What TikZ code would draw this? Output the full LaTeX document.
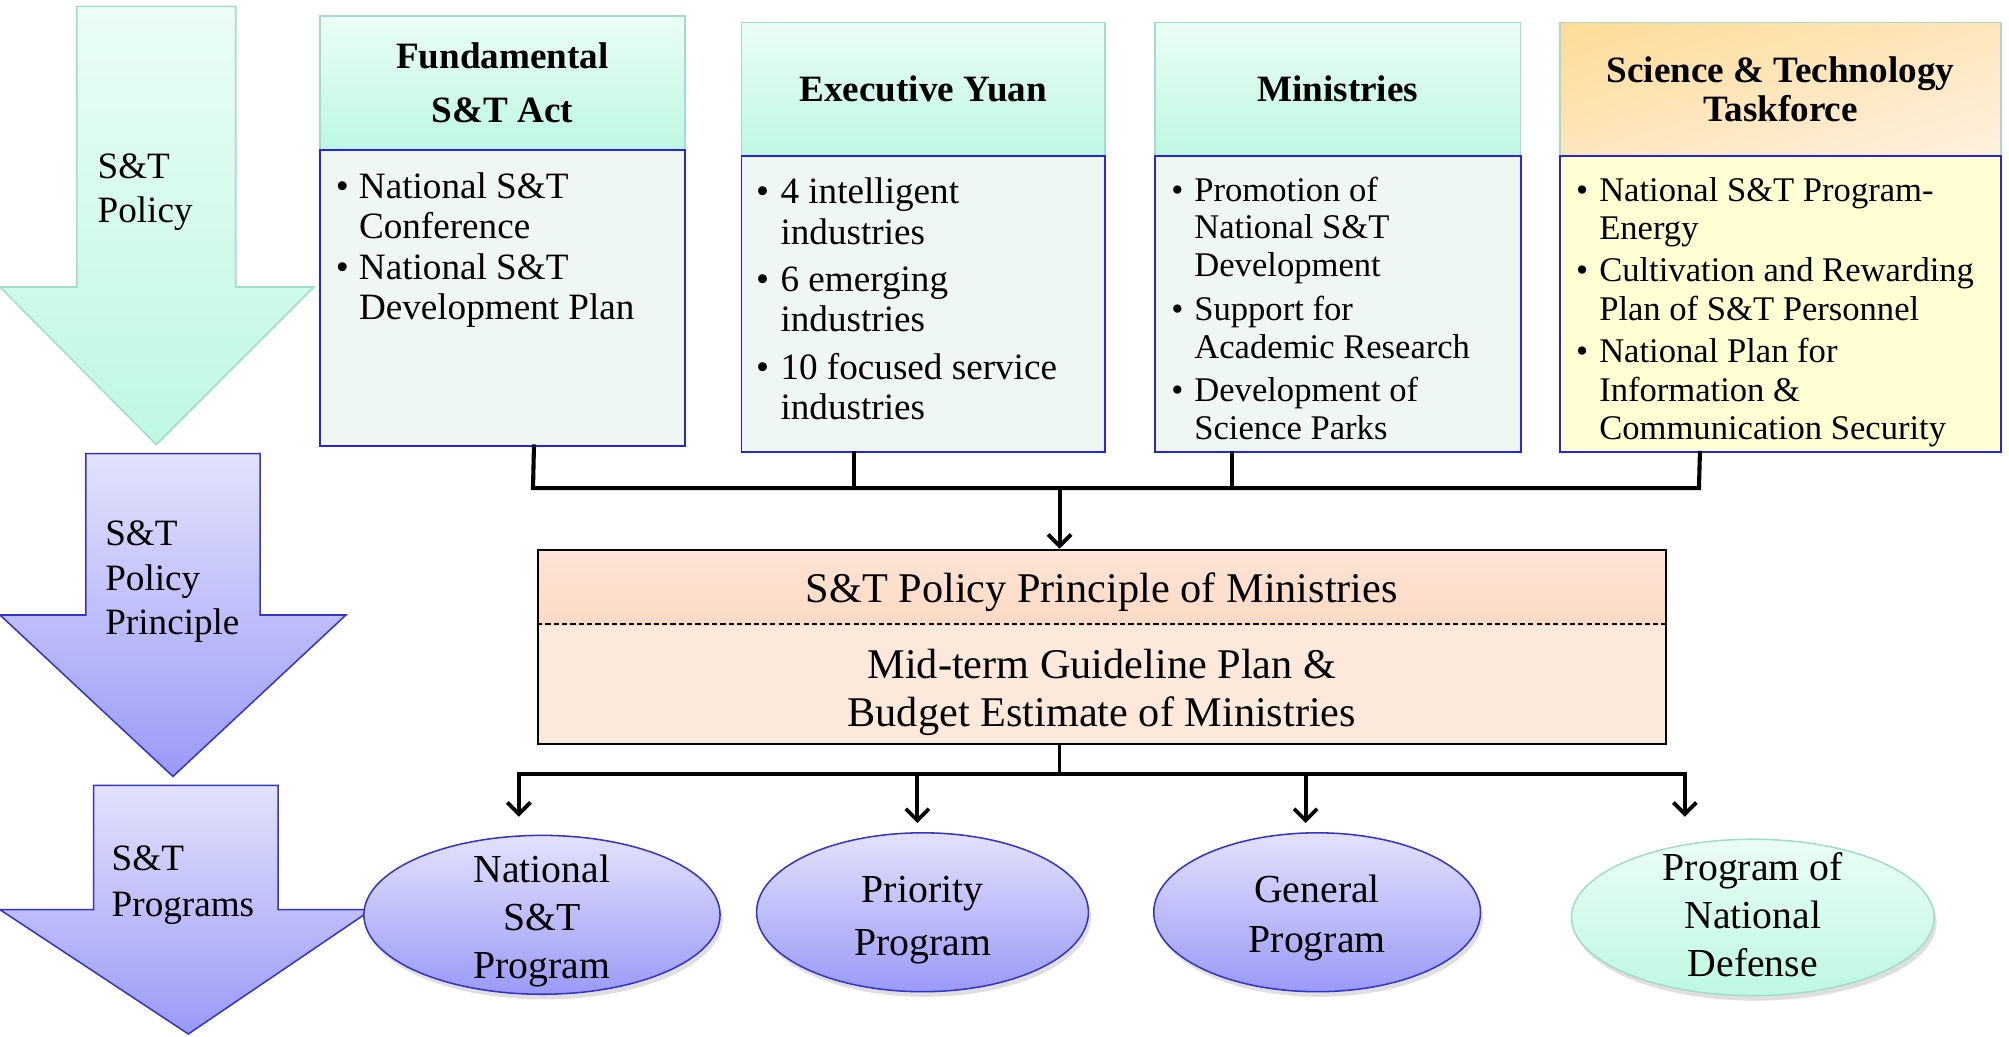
\documentclass[tikz,border=0pt]{standalone}
\usepackage{fontspec}
\setmainfont{Liberation Serif}
\usepackage{array}
\usetikzlibrary{shapes.geometric,arrows.meta,shadows,shadings,calc}
\definecolor{grtop}{HTML}{EBFDF6}
\definecolor{grbot}{HTML}{BDF8E2}
\definecolor{grborder}{HTML}{A3DCC9}
\definecolor{bodyfill}{HTML}{EFF7F3}
\definecolor{yelfill}{HTML}{FFFFD3}
\definecolor{bodyblue}{HTML}{2424EE}
\definecolor{orA}{HTML}{FEDB96}
\definecolor{orB}{HTML}{FEE6BC}
\definecolor{orC}{HTML}{FEF1E1}
\definecolor{pktop}{HTML}{FDE4D5}
\definecolor{pkbot}{HTML}{FCCBAA}
\definecolor{pklow}{HTML}{FCE9DB}
\definecolor{bltop}{HTML}{E2E2FC}
\definecolor{blbot}{HTML}{9A9AF7}
\definecolor{blborder}{HTML}{3434CC}
\begin{document}
\begin{tikzpicture}[x=1pt,y=-1pt,
  hdr/.style={draw=grborder, line width=1.2pt, top color=grtop, bottom color=grbot,
    anchor=north west, inner sep=0pt, align=center,
    font=\bfseries\fontsize{29}{31}\selectfont},
  bodybox/.style={draw=bodyblue, line width=1.5pt, fill=bodyfill, anchor=north west, inner sep=0pt},
  bodytext/.style={anchor=base west, inner sep=0pt},
  bigarrowblue/.style={draw=blborder, line width=1.2pt, top color=bltop, bottom color=blbot},
  bigarrowgreen/.style={draw=grborder, line width=1.2pt, top color=grtop, bottom color=grbot},
  arrlabel/.style={anchor=west, inner sep=0pt, align=left},
  prog/.style={ellipse, draw=blborder, line width=1.2pt, top color=bltop, bottom color=blbot,
    inner sep=0pt, drop shadow={shadow xshift=2pt, shadow yshift=-4pt, opacity=0.25}},
  progtext/.style={inner sep=0pt, align=center},
  bus/.style={line width=3.2pt, line cap=rect},
  stem/.style={line width=2.4pt},
  arr/.style={line width=3pt, -{Straight Barb[length=9pt,width=18pt]}},
]
\useasboundingbox (0,0) rectangle (1568,809);

% ---- big left arrows ----
\shade[bigarrowgreen] (60,5) -- (184,5) -- (184,224) -- (245,224) -- (122,347) -- (0,224) -- (60,224) -- cycle;
\shade[bigarrowblue] (67,354) -- (203,354) -- (203,480) -- (270,480) -- (135,606) -- (0,480) -- (67,480) -- cycle;
\shade[bigarrowblue] (73,613) -- (217,613) -- (217,710) -- (290,710) -- (147,807) -- (0,710) -- (73,710) -- cycle;
\node[arrlabel, font=\fontsize{29}{35}\selectfont] (a1) at (76,150) {S\&T\\Policy};
\node[arrlabel, font=\fontsize{29}{35}\selectfont] (a2) at (82,454) {S\&T\\Policy\\Principle};
\node[arrlabel, font=\fontsize{29}{36}\selectfont] (a3) at (87,691) {S\&T\\Programs};

% ---- top boxes ----
\node[hdr, minimum width=285, minimum height=104, font=\bfseries\fontsize{29}{42}\selectfont] (h1) at (249,12) {Fundamental\\S\&T Act};
\node[bodybox, minimum width=285, minimum height=231] (b1) at (249,116) {};
\node[hdr, minimum width=284, minimum height=104] (h2) at (578,17) {Executive Yuan};
\node[bodybox, minimum width=284, minimum height=231] (b2) at (578,121) {};
\node[hdr, minimum width=285, minimum height=104] (h3) at (901,17) {Ministries};
\node[bodybox, minimum width=285, minimum height=231] (b3) at (901,121) {};
\node[hdr, minimum width=344, minimum height=104,
  upper left=orA, upper right=orB, lower left=orB, lower right=orC] (h4) at (1217,17) {Science \& Technology\\Taskforce};
\node[bodybox, minimum width=344, minimum height=231, fill=yelfill] (b4) at (1217,121) {};

\node[bodytext, font=\fontsize{29}{31}\selectfont] (t1) at (262,155) {%
\begin{tabular}[t]{@{}p{18pt}@{}l@{}}
\textbullet & National S\&T\\
 & Conference\\[1pt]
\textbullet & National S\&T\\
 & Development Plan
\end{tabular}};
\node[bodytext, font=\fontsize{29}{31.5}\selectfont] (t2) at (590,159) {%
\begin{tabular}[t]{@{}p{19pt}@{}l@{}}
\textbullet & 4 intelligent\\
 & industries\\[5.5pt]
\textbullet & 6 emerging\\
 & industries\\[5.5pt]
\textbullet & 10 focused service\\
 & industries
\end{tabular}};
\node[bodytext, font=\fontsize{27}{29.5}\selectfont] (t3) at (914,157) {%
\begin{tabular}[t]{@{}p{18pt}@{}l@{}}
\textbullet & Promotion of\\
 & National S\&T\\
 & Development\\[4.5pt]
\textbullet & Support for\\
 & Academic Research\\[4.5pt]
\textbullet & Development of\\
 & Science Parks
\end{tabular}};
\node[bodytext, font=\fontsize{27}{30}\selectfont] (t4) at (1230,157) {%
\begin{tabular}[t]{@{}p{18pt}@{}l@{}}
\textbullet & National S\&T Program-\\
 & Energy\\[3pt]
\textbullet & Cultivation and Rewarding\\
 & Plan of S\&T Personnel\\[3pt]
\textbullet & National Plan for\\
 & Information \&\\
 & Communication Security
\end{tabular}};

% ---- central box ----
\node[draw, line width=1.5pt, fill=pklow, minimum width=880, minimum height=152, inner sep=0pt,
  path picture={\shade[top color=pktop, bottom color=pkbot]
    (path picture bounding box.north west) rectangle ([yshift=-59pt]path picture bounding box.north east);}]
  (pp) at (860,505) {};
\draw[line width=1.6pt, dash pattern=on 4pt off 2.5pt] ([yshift=-59pt]pp.north west) -- ([yshift=-59pt]pp.north east);
\node[inner sep=0pt, font=\fontsize{33}{38}\selectfont] (pp1) at (860,462) {S\&T Policy Principle of Ministries};
\node[inner sep=0pt, align=center, font=\fontsize{33}{38}\selectfont] (pp2) at (860,540.5) {Mid-term Guideline Plan \&\\Budget Estimate of Ministries};

% ---- program ellipses ----
\node[prog, minimum width=278, minimum height=124] (e1) at (423,714) {};
\node[progtext, font=\fontsize{31}{37.5}\selectfont] (e1t) at ([yshift=-5pt]e1.center) {National\\S\&T\\Program};
\node[prog, minimum width=259, minimum height=124] (e2) at (720,712) {};
\node[progtext, font=\fontsize{31}{41}\selectfont] (e2t) at ([yshift=-6pt]e2.center) {Priority\\Program};
\node[prog, minimum width=255, minimum height=124] (e3) at (1028,712) {};
\node[progtext, font=\fontsize{31}{39}\selectfont] (e3t) at ([yshift=-4.5pt]e3.center) {General\\Program};
\node[prog, draw=grborder, top color=grtop, bottom color=grbot, minimum width=283, minimum height=122] (e4) at (1368,716) {};
\node[progtext, font=\fontsize{31}{37.5}\selectfont] (e4t) at ([yshift=2pt]e4.center) {Program of\\National\\Defense};

% ---- top connectors ----
\coordinate (busL) at (416,381);
\coordinate (busR) at (1326,381);
\draw[bus] ([xshift=24.5pt]b1.south) -- (busL) -- (busR) -- ([xshift=-63pt]b4.south);
\draw[bus] ([xshift=-54pt]b2.south) -- ([xshift=-54pt]b2.south |- busL);
\draw[bus] ([xshift=-82.5pt]b3.south) -- ([xshift=-82.5pt]b3.south |- busL);
\draw[arr] ([xshift=-33pt]pp.north |- busL) -- ([xshift=-33pt]pp.north);

% ---- bottom connectors ----
\coordinate (bl) at (405,604);
\coordinate (br) at (1315,604);
\draw[stem] ([xshift=-33pt]pp.south) -- ([xshift=-33pt]pp.south |- bl);
\draw[bus] (bl) -- (br);
\draw[arr] (bl) -- ([xshift=-18pt,yshift=14pt]e1.north);
\draw[arr] ([xshift=-4pt]e2.north |- bl) -- ([xshift=-4pt,yshift=7pt]e2.north);
\draw[arr] ([xshift=-9pt]e3.north |- bl) -- ([xshift=-9pt,yshift=7pt]e3.north);
\draw[arr] (br) -- ([xshift=-53pt,yshift=17pt]e4.north);
\end{tikzpicture}
\end{document}
